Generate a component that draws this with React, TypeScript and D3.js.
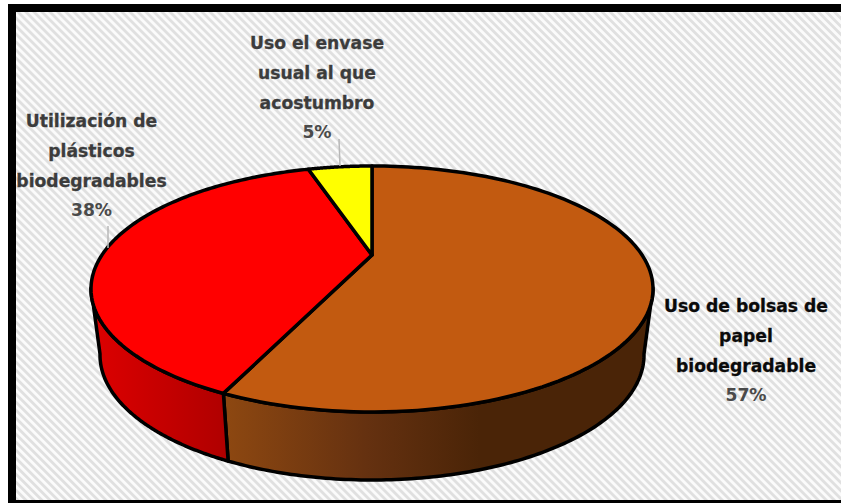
import React from "react";
import * as d3 from "d3";

const categories = ["Uso de bolsas de papel biodegradable", "Utilización de plásticos biodegradables", "Uso el envase usual al que acostumbro"];
const shares = [57, 38, 5];
const topColors = ["#c25a10", "#ff0000", "#ffff00"];
const labelLines = [
  ["Uso de bolsas de", "papel", "biodegradable"],
  ["Utilización de", "plásticos", "biodegradables"],
  ["Uso el envase", "usual al que", "acostumbro"],
];
const labelAnchors = [
  { x: 746, y: 312, name: "#0a0a0a" },
  { x: 91.5, y: 127, name: "#3c3c3c" },
  { x: 317, y: 49, name: "#3c3c3c" },
];
const leaders = [
  null,
  [[108, 226], [108, 248]],
  [[339, 139], [340, 166]],
];

const W = 841;
const H = 503;
const ELLIPSE = { cx: 372, cy: 289, rx: 281, ry: 123 };
const FLOOR = { cx: 372, cy: 355, rx: 272, ry: 125 };
const APEX_Y = 255;

// Perspective tilt of the disc; the centre of the pie projects above the ellipse centre.
const K = 0.2764;
const A = 113.6;
const B = 0.96 * ELLIPSE.rx * Math.sqrt(1 - K * K);

// Casts the ray for a pie angle from the apex and returns where it meets the rim ellipse.
const project = (theta: number): [number, number] => {
  const u = Math.sin(theta);
  const v = -Math.cos(theta);
  const d = 1 - K * v;
  const dx = (B * u) / d;
  const dy = (A * v) / d;
  const ax = dx / ELLIPSE.rx;
  const ay = dy / ELLIPSE.ry;
  const oy = (APEX_Y - ELLIPSE.cy) / ELLIPSE.ry;
  const qa = ax * ax + ay * ay;
  const qb = 2 * ay * oy;
  const qc = oy * oy - 1;
  const t = (-qb + Math.sqrt(qb * qb - 4 * qa * qc)) / (2 * qa);
  return [ELLIPSE.cx + dx * t, APEX_Y + dy * t];
};

const toFloor = ([x, y]: [number, number]): [number, number] => [
  FLOOR.cx + ((x - ELLIPSE.cx) * FLOOR.rx) / ELLIPSE.rx,
  FLOOR.cy + ((y - ELLIPSE.cy) * FLOOR.ry) / ELLIPSE.ry,
];

const sample = (a: number, b: number) => d3.range(0, 121).map((i) => a + ((b - a) * i) / 120);
const line = d3.line<[number, number]>();

const pie = d3.pie<number>().sort(null).value((d) => d);
const arcs = pie(shares);

// The wall is visible between the two horizontal extremes of the rim.
const sweep = sample(0, 2 * Math.PI);
const wallStart = d3.greatest(sweep, (t) => project(t)[0]) as number;
const wallEnd = d3.least(sweep, (t) => project(t)[0]) as number;

export default function App() {
  return (
    <svg width={W} height={H} style={{ position: "absolute", left: 0, top: 0, display: "block" }}>
      <defs>
        <pattern id="hatch" width="5.66" height="5.66" patternUnits="userSpaceOnUse" patternTransform="rotate(45)">
          <rect width="5.66" height="5.66" fill="#fbfbfb" />
          <rect width="5.66" height="2.83" fill="#e0e0e0" />
        </pattern>
        <linearGradient id="wall0" gradientUnits="userSpaceOnUse" x1="229" x2="480" y1="0" y2="0">
          <stop offset="0" stopColor="#8c4711" />
          <stop offset="0.55" stopColor="#653110" />
          <stop offset="1" stopColor="#4a2407" />
        </linearGradient>
        <linearGradient id="wall1" gradientUnits="userSpaceOnUse" x1="95" x2="225" y1="0" y2="0">
          <stop offset="0" stopColor="#dc0000" />
          <stop offset="1" stopColor="#b00000" />
        </linearGradient>
      </defs>

      {/* Plot area with its heavy frame on the left, top and bottom */}
      <rect x="16" y="12" width={W - 16} height="488" fill="url(#hatch)" />
      <rect x="8" y="4" width={W - 8} height="8" fill="#000" />
      <rect x="8" y="4" width="8" height={H - 4} fill="#000" />
      <rect x="8" y="500" width={W - 8} height="3" fill="#000" />

      {/* Side walls, only the part facing the viewer */}
      {arcs.map((a, i) => {
        const from = Math.max(a.startAngle, wallStart);
        const to = Math.min(a.endAngle, wallEnd);
        if (to <= from) return null;
        const upper = sample(from, to).map(project);
        const lower = upper.map(toFloor).reverse();
        const d = line([...upper, ...lower]) + "Z";
        return <path key={i} d={d} fill={`url(#wall${i})`} stroke="#000" strokeWidth="3.5" strokeLinejoin="round" />;
      })}

      {/* Top faces */}
      {arcs.map((a, i) => {
        const rim = sample(a.startAngle, a.endAngle).map(project);
        const d = line([[ELLIPSE.cx, APEX_Y], ...rim]) + "Z";
        return <path key={i} d={d} fill={topColors[i]} stroke="#000" strokeWidth="3.5" strokeLinejoin="round" />;
      })}

      {leaders.map((pts, i) =>
        pts ? <path key={i} d={line(pts as [number, number][]) as string} stroke="#b8b8b8" strokeWidth="1.5" fill="none" /> : null
      )}

      {categories.map((c, i) => (
        <text
          key={c}
          textAnchor="middle"
          fontFamily="'DejaVu Sans', sans-serif"
          fontWeight="bold"
          fontSize="17.2"
          fill={labelAnchors[i].name}
          stroke={labelAnchors[i].name}
          strokeWidth="0.3"
        >
          {labelLines[i].map((t, j) => (
            <tspan key={j} x={labelAnchors[i].x} y={labelAnchors[i].y + j * 30}>
              {t}
            </tspan>
          ))}
          <tspan x={labelAnchors[i].x} y={labelAnchors[i].y + 3 * 29.5} fill="#4a4a4a" stroke="none">
            {shares[i]}%
          </tspan>
        </text>
      ))}
    </svg>
  );
}
